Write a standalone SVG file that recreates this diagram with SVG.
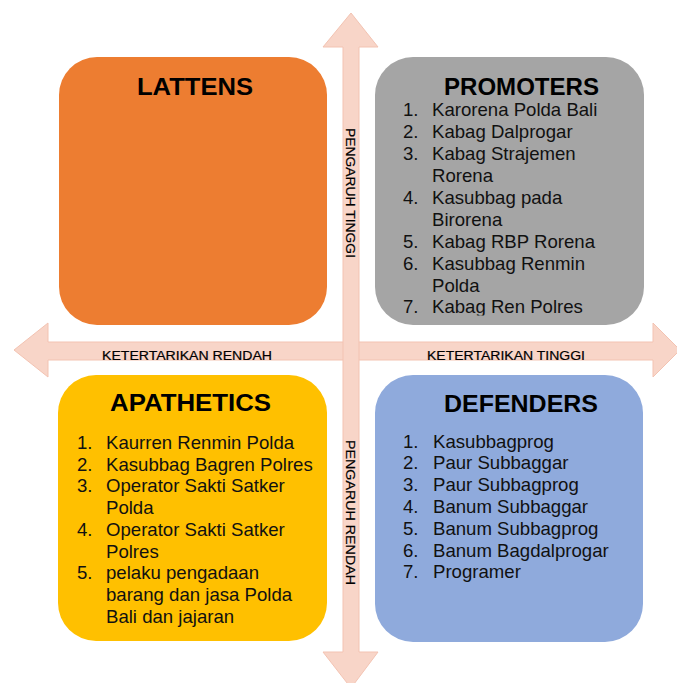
<svg xmlns="http://www.w3.org/2000/svg" width="677" height="683" viewBox="0 0 677 683">
<style>
.arrow{fill:#F8D5C8;stroke:#F3C3B2;stroke-width:1}
.title{font-family:"Liberation Sans",Arial,sans-serif;font-weight:bold;font-size:24px;fill:#000}
.body{font-family:"Liberation Sans",Arial,sans-serif;font-size:18.6px;fill:#111}
.lbl{font-family:"Liberation Sans",Arial,sans-serif;font-size:12.5px;fill:#000;stroke:#000;stroke-width:0.2}
</style>
<defs>
<clipPath id="clipProm"><rect x="375" y="57" width="270" height="258.5"/></clipPath>
</defs>
<rect width="677" height="683" fill="#fff"/>
<g id="connectors">
<path class="arrow" d="M14,350 L48,323 L48,342 L653,342 L653,323 L680,350 L653,377 L653,360 L48,360 L48,377 Z"/>
<path class="arrow" d="M351,13 L378,47 L359,47 L359,652 L378,652 L351,688 L323,652 L343,652 L343,47 L323,47 Z"/>
<text class="lbl" x="102" y="360" textLength="170" lengthAdjust="spacingAndGlyphs">KETERTARIKAN RENDAH</text>
<text class="lbl" x="427" y="360" textLength="158" lengthAdjust="spacingAndGlyphs">KETERTARIKAN TINGGI</text>
<text class="lbl" transform="translate(346,128) rotate(90)" x="0" y="0" textLength="130" lengthAdjust="spacingAndGlyphs">PENGARUH TINGGI</text>
<text class="lbl" transform="translate(346,440) rotate(90)" x="0" y="0" textLength="145" lengthAdjust="spacingAndGlyphs">PENGARUH RENDAH</text>
</g>
<g id="lattens">
<rect x="59" y="57" width="268" height="268" rx="38" ry="38" fill="#ED7D31"/>
<text class="title" x="195" y="95" text-anchor="middle" textLength="116" lengthAdjust="spacingAndGlyphs">LATTENS</text>
</g>
<g id="promoters">
<rect x="375" y="57" width="269" height="268" rx="38" ry="38" fill="#A5A5A5"/>
<text class="title" x="444" y="95" textLength="155" lengthAdjust="spacingAndGlyphs">PROMOTERS</text>
<g clip-path="url(#clipProm)" class="body">
<text x="403" y="116.3">1.</text><text x="432" y="116.3">Karorena Polda Bali</text>
<text x="403" y="138.2">2.</text><text x="432" y="138.2">Kabag Dalprogar</text>
<text x="403" y="160.1">3.</text><text x="432" y="160.1">Kabag Strajemen</text>
<text x="432" y="182">Rorena</text>
<text x="403" y="203.9">4.</text><text x="432" y="203.9">Kasubbag pada</text>
<text x="432" y="225.8">Birorena</text>
<text x="403" y="247.7">5.</text><text x="432" y="247.7">Kabag RBP Rorena</text>
<text x="403" y="269.6">6.</text><text x="432" y="269.6">Kasubbag Renmin</text>
<text x="432" y="291.5">Polda</text>
<text x="403" y="313.4">7.</text><text x="432" y="313.4">Kabag Ren Polres</text>
</g>
</g>
<g id="apathetics">
<rect x="58" y="375" width="269" height="266" rx="38" ry="38" fill="#FFC000"/>
<text class="title" x="110" y="411" textLength="161" lengthAdjust="spacingAndGlyphs">APATHETICS</text>
<g class="body">
<text x="77" y="449">1.</text><text x="106" y="449">Kaurren Renmin Polda</text>
<text x="77" y="470.7">2.</text><text x="106" y="470.7">Kasubbag Bagren Polres</text>
<text x="77" y="492.4">3.</text><text x="106" y="492.4">Operator Sakti Satker</text>
<text x="106" y="514.1">Polda</text>
<text x="77" y="535.8">4.</text><text x="106" y="535.8">Operator Sakti Satker</text>
<text x="106" y="557.5">Polres</text>
<text x="77" y="579.2">5.</text><text x="106" y="579.2">pelaku pengadaan</text>
<text x="106" y="600.9">barang dan jasa Polda</text>
<text x="106" y="622.6">Bali dan jajaran</text>
</g>
</g>
<g id="defenders">
<rect x="375" y="375" width="268" height="267" rx="38" ry="38" fill="#8FAADC"/>
<text class="title" x="444" y="412" textLength="154" lengthAdjust="spacingAndGlyphs">DEFENDERS</text>
<g class="body">
<text x="403" y="447.5">1.</text><text x="433" y="447.5">Kasubbagprog</text>
<text x="403" y="469.3">2.</text><text x="433" y="469.3">Paur Subbaggar</text>
<text x="403" y="491.1">3.</text><text x="433" y="491.1">Paur Subbagprog</text>
<text x="403" y="512.9">4.</text><text x="433" y="512.9">Banum Subbaggar</text>
<text x="403" y="534.7">5.</text><text x="433" y="534.7">Banum Subbagprog</text>
<text x="403" y="556.5">6.</text><text x="433" y="556.5">Banum Bagdalprogar</text>
<text x="403" y="578.3">7.</text><text x="433" y="578.3">Programer</text>
</g>
</g>
</svg>
